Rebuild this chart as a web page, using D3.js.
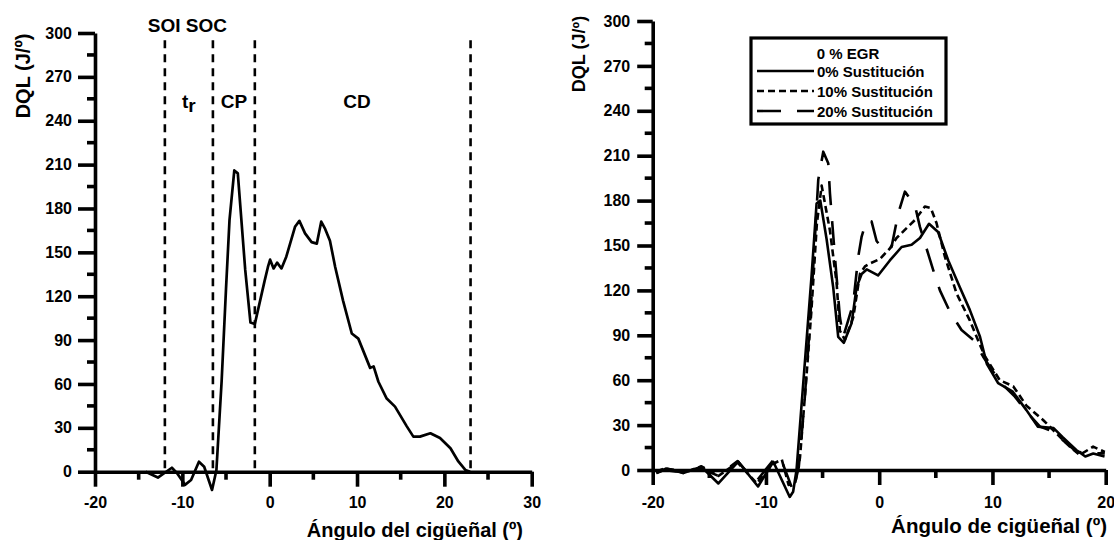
<!DOCTYPE html>
<html>

<head>
    <meta charset="utf-8">
    <script src="https://d3js.org/d3.v7.min.js"></script>
    <style>
        body { margin: 0; background: #fff; }
        text { font-family: "Liberation Sans", Arial, sans-serif; font-weight: bold; fill: #000; }
        .axis line, .axis path { stroke: #000; stroke-width: 3.6px; }
        .axis text { font-size: 16px; font-weight: bold; }
    </style>
    <script>
        // left panel: heat release, 0% substitution
        const angleL = [-14.2, -12.8, -11.2, -10.6, -9.7, -9.0, -8.1, -7.5, -6.6, -6.1, -5.5, -5.0, -4.6, -4.05, -3.65,
            -2.8, -2.2, -1.7, -0.6, -0.2, 0.05, 0.45, 0.85, 1.35, 1.9, 2.9, 3.4, 4.05, 4.8, 5.4, 5.9, 6.35, 6.9, 7.5,
            8.4, 9.4, 10.15, 11.5, 11.9, 12.45, 13.4, 14.35, 15.7, 16.45, 17.2, 18.4, 19.5, 20.7, 21.6, 22.4, 22.95]
        const dqlL = [0, -4, 2.7, -1, -9, -5.7, 6.8, 3.4, -12.5, 1, 62, 125, 172, 206, 204,
            138, 102, 101, 130, 140, 145, 139, 143, 139, 147, 167.5, 171.5, 163, 157, 156, 171, 166, 158, 140,
            117, 94.5, 91, 71, 72, 61.5, 50, 44.5, 31, 24, 24, 26.3, 23, 16, 7, 1.2, 0]
        const phaseLines = [-12, -6.5, -1.7, 23]

        // right panel: 0 % EGR, three substitution levels
        const angle0 = [-19.65, -18.8, -17.3, -15.7, -14.2, -12.45, -10.7, -9.35, -7.9, -7.6, -7.3, -6.4, -5.97, -5.53,
            -5.2, -4.64, -4.06, -3.62, -3.12, -2.44, -2.0, -1.55, -1.1, -0.1, 0.94, 1.98, 2.86, 3.6, 4.4, 5.2, 6.1,
            7.1, 8.0, 8.9, 9.5, 10.5, 11.8, 13.0, 14.0, 15.4, 16.2, 17.4, 18.2, 18.9, 19.9]
        const dql0 = [-2, 1, -2, 2.2, -9, 5.6, -11, 5.5, -18, -14.5, 0, 88, 130, 178,
            180, 154, 122, 89, 85, 98, 122, 131, 134, 130, 140, 149, 150.5, 155, 164.5, 159, 140,
            122.5, 107, 89, 71, 58, 52.3, 40, 29, 28, 22, 13.4, 9, 11, 9]
        const angle10 = [-19.65, -19.0, -18.0, -17.3, -15.7, -14.2, -12.5, -10.8, -9.4, -8.6, -8.0, -7.4, -7.0, -6.5,
            -6.0, -5.5, -5.08, -4.35, -3.76, -3.47, -3.03, -2.29, -1.7, -1.26, -0.82, 0.06, 0.94, 1.53, 3.15, 4.03,
            4.56, 5.06, 5.8, 6.83, 8.0, 8.6, 9.33, 10.65, 11.83, 13.0, 14.47, 15.65, 16.83, 17.71, 18.89, 19.92]
        const dql10 = [-1, 1, 0, -2, 2.5, -4, 5, -9, 4, 7, -10, -8, 8, 55,
            105, 165, 190, 160, 125, 93, 87, 102, 131, 136, 138, 141, 148, 155, 167, 176,
            175, 165, 142.5, 118, 100, 89, 76, 60, 56, 43, 33.4, 24.5, 15.6, 10, 15.6, 12]
        const angle20 = [-19.7, -19.0, -18.0, -17.3, -15.7, -14.2, -12.5, -10.9, -9.1, -8.5, -7.6, -7.1, -6.6, -6.1,
            -5.6, -5.38, -4.94, -4.5, -4.35, -3.91, -3.47, -3.18, -2.3, -1.85, -1.55, -1.11, -0.67, -0.23, 0.4, 1.09,
            1.68, 2.27, 3.15, 3.59, 4.18, 4.77, 5.36, 6.24, 7.27, 8.3, 9.18, 10.65, 11.98, 13.0, 14.2, 15.36, 16.54,
            17.42, 18.6, 19.92]
        const dql20 = [-2, 0, -1, -1, 1, -4, 6, -8, 9, 4, -14, 2, 45, 100,
            165, 194, 212.7, 205, 185, 142.5, 102, 89, 111, 142.5, 156, 167, 166, 153, 147, 149,
            171.5, 186, 177, 162.6, 148, 133.6, 120, 105.8, 93.5, 87, 75.7, 59, 49, 39, 29, 25.6, 17.8,
            12.2, 11.1, 11.1]

        const legendTitle = "0 % EGR"
        const seriesNames = ["0% Sustitución", "10% Sustitución", "20% Sustitución"]
        const dashes = [null, "7,4", "24,16"]

        const yTicks = d3.range(0, 301, 30)
        const yMinor = d3.range(15, 300, 30)

        let svg

        function drawAxes(g, x, y, xTicks, xMinor, opts) {
            const xa = g.append("g")
                .attr("class", "axis")
                .attr("transform", `translate(0,${y(0)})`)
                .call(d3.axisBottom(x).tickValues(xTicks).tickSize(15).tickSizeOuter(0)
                    .tickPadding(opts.xPad).tickFormat(d => String(d)))
            xa.selectAll(".minor")
                .data(xMinor)
                .enter()
                .append("line")
                .attr("class", "minor")
                .attr("x1", d => x(d)).attr("x2", d => x(d))
                .attr("y1", 0).attr("y2", 8)

            const ya = g.append("g")
                .attr("class", "axis")
                .attr("transform", `translate(${x.range()[0]},0)`)
                .call(d3.axisLeft(y).tickValues(yTicks).tickSize(opts.yTick).tickSizeOuter(0)
                    .tickPadding(opts.yPad).tickFormat(d => String(d)))
            ya.selectAll(".minor")
                .data(yMinor)
                .enter()
                .append("line")
                .attr("class", "minor")
                .attr("x1", -8).attr("x2", 0)
                .attr("y1", d => y(d)).attr("y2", d => y(d))

            xa.attr("font-size", null).attr("font-family", null)
            ya.attr("font-size", null).attr("font-family", null)
        }

        function leftPanel() {
            const x = d3.scaleLinear().domain([-20, 30]).range([95, 531.7])
            const y = d3.scaleLinear().domain([0, 300]).range([471.7, 33])
            const g = svg.append("g")
            drawAxes(g, x, y, d3.range(-20, 31, 10), d3.range(-15, 30, 10), { xPad: 10, yTick: 17, yPad: 6 })

            g.selectAll(".phase")
                .data(phaseLines)
                .enter()
                .append("line")
                .attr("class", "phase")
                .attr("x1", d => x(d)).attr("x2", d => x(d))
                .attr("y1", y(295)).attr("y2", y(0))
                .style("stroke", "#000").style("stroke-width", "2.6px").style("stroke-dasharray", "8,6")

            const line = d3.line().x((d, i) => x(angleL[i])).y(d => y(d))
            g.append("path")
                .attr("d", line(dqlL))
                .style("fill", "none").style("stroke", "#000").style("stroke-width", "2.7px")
                .style("stroke-linejoin", "round")

            g.append("text").attr("x", x(-12)).attr("y", 32).attr("text-anchor", "start")
                .attr("dx", -17).style("font-size", "19px").text("SOI SOC")
            const tr = g.append("text").attr("x", x(-9.25)).attr("y", 108).attr("text-anchor", "middle")
                .style("font-size", "19px")
            tr.append("tspan").text("t")
            tr.append("tspan").attr("dy", 4).text("r")
            g.append("text").attr("x", x(-4.1)).attr("y", 108).attr("text-anchor", "middle")
                .style("font-size", "19px").text("CP")
            g.append("text").attr("x", x(10)).attr("y", 108).attr("text-anchor", "middle")
                .style("font-size", "19px").text("CD")

            g.append("text").attr("transform", "translate(30,76) rotate(-90)").attr("text-anchor", "middle")
                .style("font-size", "20px").text("DQL (J/º)")
            g.append("text").attr("x", 523).attr("y", 537).attr("text-anchor", "end")
                .style("font-size", "20px").text("Ángulo del cigüeñal (º)")
        }

        function rightPanel() {
            const x = d3.scaleLinear().domain([-20, 20]).range([652.7, 1105.7])
            const y = d3.scaleLinear().domain([0, 300]).range([470, 21])
            const g = svg.append("g")
            drawAxes(g, x, y, d3.range(-20, 21, 10), d3.range(-15, 20, 10), { xPad: 12, yTick: 15.5, yPad: 7 })

            const series = [[angle0, dql0], [angle10, dql10], [angle20, dql20]]
            series.forEach((s, k) => {
                const line = d3.line().x((d, i) => x(s[0][i])).y(d => y(d))
                g.append("path")
                    .attr("d", line(s[1]))
                    .style("fill", "none").style("stroke", "#000").style("stroke-width", "2.6px")
                    .style("stroke-linejoin", "round")
                    .style("stroke-dasharray", dashes[k])
            })

            // legend
            const lg = g.append("g").attr("transform", "translate(751,38)")
            lg.append("rect").attr("width", 195).attr("height", 86)
                .style("fill", "#fff").style("stroke", "#000").style("stroke-width", "3.2px")
            lg.append("text").attr("x", 97).attr("y", 21).attr("text-anchor", "middle")
                .style("font-size", "15px").text(legendTitle)
            const item = lg.selectAll(".item")
                .data(seriesNames)
                .enter()
                .append("g")
                .attr("class", "item")
                .attr("transform", (d, i) => `translate(0,${33 + i * 20})`)
            item.append("line")
                .attr("x1", 6).attr("x2", 63).attr("y1", 0).attr("y2", 0)
                .style("stroke", "#000").style("stroke-width", "2.6px")
                .style("stroke-dasharray", (d, i) => dashes[i])
            item.append("text").attr("x", 66).attr("y", 6)
                .style("font-size", "15px").text(d => d)

            g.append("text").attr("transform", "translate(585,54) rotate(-90)").attr("text-anchor", "middle")
                .style("font-size", "18px").text("DQL (J/º)")
            g.append("text").attr("x", 1107).attr("y", 533).attr("text-anchor", "end")
                .style("font-size", "20.5px").text("Ángulo de cigüeñal (º)")
        }

        function doSVG() {
            svg = d3.select("#svgContainer")
            leftPanel()
            rightPanel()
        }
    </script>
</head>

<body onload="doSVG()">
    <svg id="svgContainer" width="1114" height="540">
    </svg>
</body>

</html>
